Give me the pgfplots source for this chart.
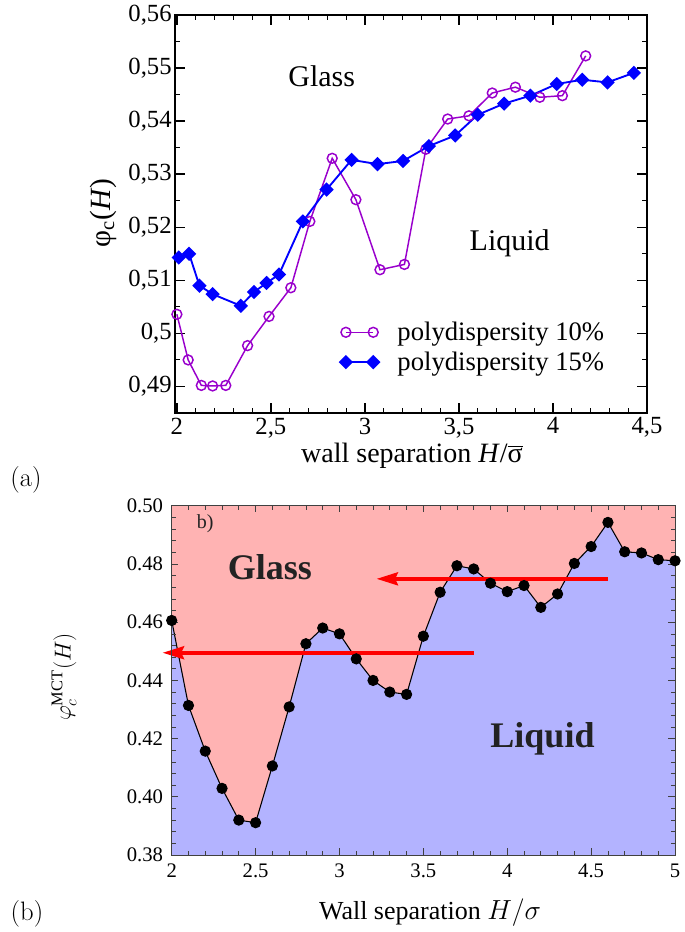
\documentclass[border=0pt]{standalone}
\usepackage{fontspec}
\setmainfont{Liberation Serif}
\usepackage{pgfplots}
\pgfplotsset{compat=1.18}
\usetikzlibrary{arrows.meta}
\definecolor{pcol}{RGB}{153,0,204}
\definecolor{bcol}{RGB}{0,0,255}
\definecolor{pinkbg}{RGB}{255,179,179}
\definecolor{bluefill}{RGB}{179,179,255}
\definecolor{txtgray}{RGB}{34,34,34}
\newcommand\lmfont{\fontfamily{lmr}\selectfont}
\begin{document}
\begin{tikzpicture}
\useasboundingbox (0pt,0pt) rectangle (513.75pt,-699pt);
% ---------------- (a) ----------------
\begin{axis}[
  at={(131.25pt,-309.75pt)}, anchor=south west,
  width=354pt, height=298.5pt, scale only axis,
  xmin=1.99, xmax=4.5, ymin=0.485, ymax=0.56,
  xtick={2,2.5,3,3.5,4,4.5},
  ytick={0.49,0.5,0.51,0.52,0.53,0.54,0.55,0.56},
  minor x tick num=4, minor y tick num=1,
  tick align=inside,
  major tick length=7.5pt, minor tick length=3.75pt,
  axis line style={line width=1.1pt, black},
  major tick style={line width=1.1pt, black},
  minor tick style={line width=0.8pt, black},
  tick label style={font=\fontsize{18.5}{18.5}\selectfont},
  /pgf/number format/assume math mode=true,
  /pgf/number format/use comma,
  xticklabel={\pgfmathprintnumber{\tick}},
  yticklabel={\pgfmathprintnumber{\tick}},
  yticklabel style={xshift=1pt},
  legend cell align=left,
  legend style={draw=none, fill=none, at={(axis cs:2.845,0.4974)}, anchor=west,
    font=\fontsize{20}{22}\selectfont, row sep=3pt},
  legend image code/.code={\draw[#1] plot coordinates {(0pt,0pt) (20.5pt,0pt)};\path (36pt,0pt);},
]
\addplot[color=pcol, line width=1.1pt, mark=o, mark size=3.7pt, mark options={line width=1.1pt}]
coordinates {
(2.00,0.5036) (2.06,0.4950) (2.13,0.4902) (2.19,0.4901) (2.26,0.4902)
(2.376,0.4977) (2.49,0.5032) (2.606,0.5086) (2.707,0.5211) (2.826,0.5330)
(2.952,0.5252) (3.08,0.5120) (3.21,0.5130) (3.324,0.5347) (3.44,0.5404)
(3.553,0.5410) (3.677,0.5453) (3.80,0.5464) (3.93,0.5445) (4.05,0.5448)
(4.174,0.5523)
};
\addlegendentry{polydispersity 10\%}
\addplot[color=bcol, line width=1.4pt, mark=square*, mark size=3.1pt, mark options={rotate=45}]
coordinates {
(2.01,0.5143) (2.065,0.5150) (2.12,0.5090) (2.19,0.5074) (2.34,0.5052)
(2.41,0.5078) (2.477,0.5095) (2.543,0.5111) (2.67,0.5211) (2.796,0.5271)
(2.929,0.5327) (3.067,0.5319) (3.203,0.5325) (3.34,0.5353) (3.48,0.5373)
(3.60,0.5412) (3.74,0.5433) (3.88,0.5448) (4.02,0.5470) (4.156,0.5478)
(4.29,0.5473) (4.43,0.5491)
};
\addlegendentry{polydispersity 15\%}
\node[font=\fontsize{22.5}{24}\selectfont] at (axis cs:2.77,0.5484) {Glass};
\node[font=\fontsize{22.5}{24}\selectfont] at (axis cs:3.77,0.5170) {Liquid};
\end{axis}
\node[rotate=90, font=\fontsize{22}{24}\selectfont] at (77.25pt,-159.75pt) {φ\textsubscript{c}(\textit{H})};
\node[font=\fontsize{21}{24}\selectfont] at (309pt,-342pt) {wall separation \textit{H}/$\overline{\mbox{σ}}$};
\node[font=\lmfont\fontsize{20}{22}\selectfont] at (19.5pt,-360pt) {(a)};
% ---------------- (b) ----------------
\begin{axis}[
  at={(128.775pt,-641.25pt)}, anchor=south west,
  width=377.5pt, height=261.9pt, scale only axis,
  xmin=2, xmax=5, ymin=0.38, ymax=0.5,
  xtick={2,2.5,3,3.5,4,4.5,5},
  ytick={0.38,0.40,0.42,0.44,0.46,0.48,0.50},
  minor x tick num=4, minor y tick num=4,
  tick align=inside,
  major tick length=5pt, minor tick length=3pt,
  axis line style={line width=0.6pt, black!75},
  major tick style={line width=0.6pt, black!75},
  minor tick style={line width=0.5pt, black!75},
  tick label style={font=\fontsize{15.5}{15.5}\selectfont},
  /pgf/number format/assume math mode=true,
  xticklabel={\pgfmathprintnumber{\tick}},
  yticklabel={\pgfmathprintnumber{\tick}},
  yticklabel style={/pgf/number format/fixed, /pgf/number format/fixed zerofill, /pgf/number format/precision=2, xshift=-3pt},
  xticklabel style={yshift=-3pt},
  axis background/.style={fill=pinkbg},
  axis on top, clip=false,
]
\addplot[draw=none, fill=bluefill] coordinates {
(2.0,0.38) (2.0,0.4606) (2.1,0.4314) (2.2,0.4157) (2.3,0.4029) (2.4,0.3920) (2.5,0.3911)
(2.6,0.4106) (2.7,0.4309) (2.8,0.4526) (2.9,0.4580) (3.0,0.4560) (3.1,0.4474)
(3.2,0.4400) (3.3,0.4360) (3.4,0.4352) (3.5,0.4552) (3.6,0.4703) (3.7,0.4794)
(3.8,0.4783) (3.9,0.4734) (4.0,0.4705) (4.1,0.4726) (4.2,0.4651) (4.3,0.4697)
(4.4,0.4802) (4.5,0.4860) (4.6,0.4943) (4.7,0.4842) (4.8,0.4838) (4.9,0.4815)
(5.0,0.4811) (5.0,0.38)
};
\addplot[black, line width=0.8pt, mark=*, mark size=3.8pt] coordinates {
(2.0,0.4606) (2.1,0.4314) (2.2,0.4157) (2.3,0.4029) (2.4,0.3920) (2.5,0.3911)
(2.6,0.4106) (2.7,0.4309) (2.8,0.4526) (2.9,0.4580) (3.0,0.4560) (3.1,0.4474)
(3.2,0.4400) (3.3,0.4360) (3.4,0.4352) (3.5,0.4552) (3.6,0.4703) (3.7,0.4794)
(3.8,0.4783) (3.9,0.4734) (4.0,0.4705) (4.1,0.4726) (4.2,0.4651) (4.3,0.4697)
(4.4,0.4802) (4.5,0.4860) (4.6,0.4943) (4.7,0.4842) (4.8,0.4838) (4.9,0.4815)
(5.0,0.4811)
};
\draw[red, line width=3.2pt, -{Stealth[length=16pt,width=9.5pt,inset=2pt]}] (axis cs:4.6,0.4749) -- (axis cs:3.22,0.4749);
\draw[red, line width=3.2pt, -{Stealth[length=16pt,width=9.5pt,inset=2pt]}] (axis cs:3.8,0.4495) -- (axis cs:1.945,0.4495);
\node[font=\fontsize{15}{16}\selectfont, text=txtgray] at (axis cs:2.2,0.4937) {b)};
\node[font=\bfseries\fontsize{27}{28}\selectfont, text=txtgray] at (axis cs:2.585,0.4788) {Glass};
\node[font=\bfseries\fontsize{27}{28}\selectfont, text=txtgray] at (axis cs:4.21,0.4200) {Liquid};
\end{axis}
\node[rotate=90, font=\fontsize{17.5}{18}\selectfont] at (48pt,-507.75pt) {$\varphi_c^{\mathrm{MCT}}(H)$};
\node[font=\fontsize{19.5}{22}\selectfont] at (322.5pt,-684.75pt) {Wall separation $H/\sigma$};
\node[font=\lmfont\fontsize{20}{22}\selectfont] at (20.25pt,-685.5pt) {(b)};
\end{tikzpicture}
\end{document}
